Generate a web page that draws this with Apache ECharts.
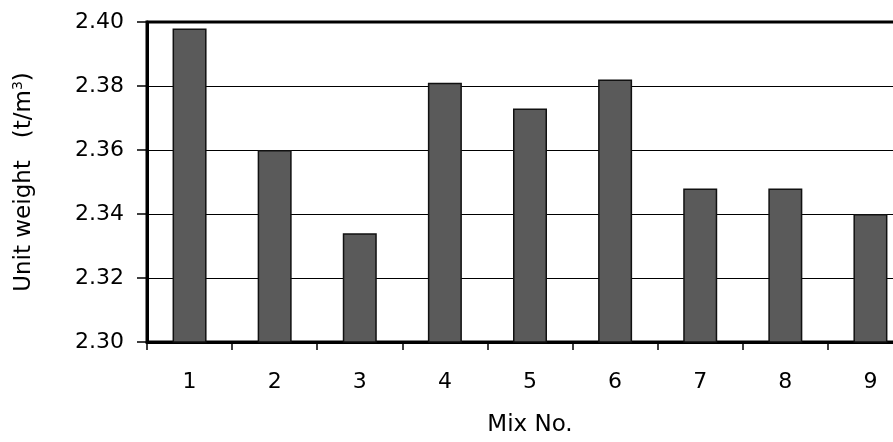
<!DOCTYPE html>
<html>
<head>
<meta charset="utf-8">
<script src="https://cdn.jsdelivr.net/npm/echarts@6/dist/echarts.min.js"></script>
<style>
  html, body { margin: 0; padding: 0; background: #fff; overflow: hidden; }
  /* the plot runs past the right edge of the picture: clip a slightly wider chart */
  #wrap { width: 893px; height: 442px; overflow: hidden; position: relative; }
  #chart { width: 913px; height: 442px; position: absolute; left: 0; top: 0; }
</style>
</head>
<body>
<div id="wrap"><div id="chart"></div></div>
<script>
// data
var mixNo = ['1', '2', '3', '4', '5', '6', '7', '8', '9'];
var unitWeight = [2.398, 2.360, 2.334, 2.381, 2.373, 2.382, 2.348, 2.348, 2.340];
var yTicks = [2.30, 2.32, 2.34, 2.36, 2.38, 2.40];

var chart = echarts.init(document.getElementById('chart'));
var font = 'DejaVu Sans';

chart.setOption({
  animation: false,
  textStyle: { fontFamily: font, color: '#000' },
  grid: {
    left: 147,
    right: 0,
    top: 22,
    bottom: 95,
    show: true,
    borderColor: '#000',
    borderWidth: 3
  },
  xAxis: {
    type: 'category',
    data: mixNo,
    name: 'Mix No.',
    nameLocation: 'middle',
    nameGap: 72,
    nameTextStyle: { fontFamily: font, fontSize: 23, color: '#000' },
    axisLine: { lineStyle: { color: '#000', width: 3 } },
    axisTick: { show: true, inside: false, length: 8, alignWithLabel: false, lineStyle: { color: '#000', width: 1.5 } },
    axisLabel: { fontFamily: font, fontSize: 22, color: '#000', margin: 29 }
  },
  yAxis: {
    type: 'value',
    min: yTicks[0],
    max: yTicks[yTicks.length - 1],
    interval: 0.02,
    name: 'Unit weight   (t/m{sup|3})',
    nameLocation: 'middle',
    nameGap: 110,
    nameTextStyle: {
      fontFamily: font, fontSize: 23, color: '#000',
      rich: { sup: { fontFamily: font, fontSize: 14, verticalAlign: 'top', padding: [0, 0, 12, 0] } }
    },
    axisLine: { show: true, lineStyle: { color: '#000', width: 3 } },
    axisTick: { show: true, inside: false, length: 10, lineStyle: { color: '#000', width: 1.5 } },
    axisLabel: {
      fontFamily: font, fontSize: 22, color: '#000', margin: 23,
      formatter: function (v) { return v.toFixed(2); }
    },
    splitLine: { show: true, lineStyle: { color: '#000', width: 1 } }
  },
  series: [{
    type: 'bar',
    data: unitWeight,
    barWidth: 34,
    itemStyle: { color: '#5a5a5a', borderColor: '#111', borderWidth: 1.5 }
  }]
});
</script>
</body>
</html>
